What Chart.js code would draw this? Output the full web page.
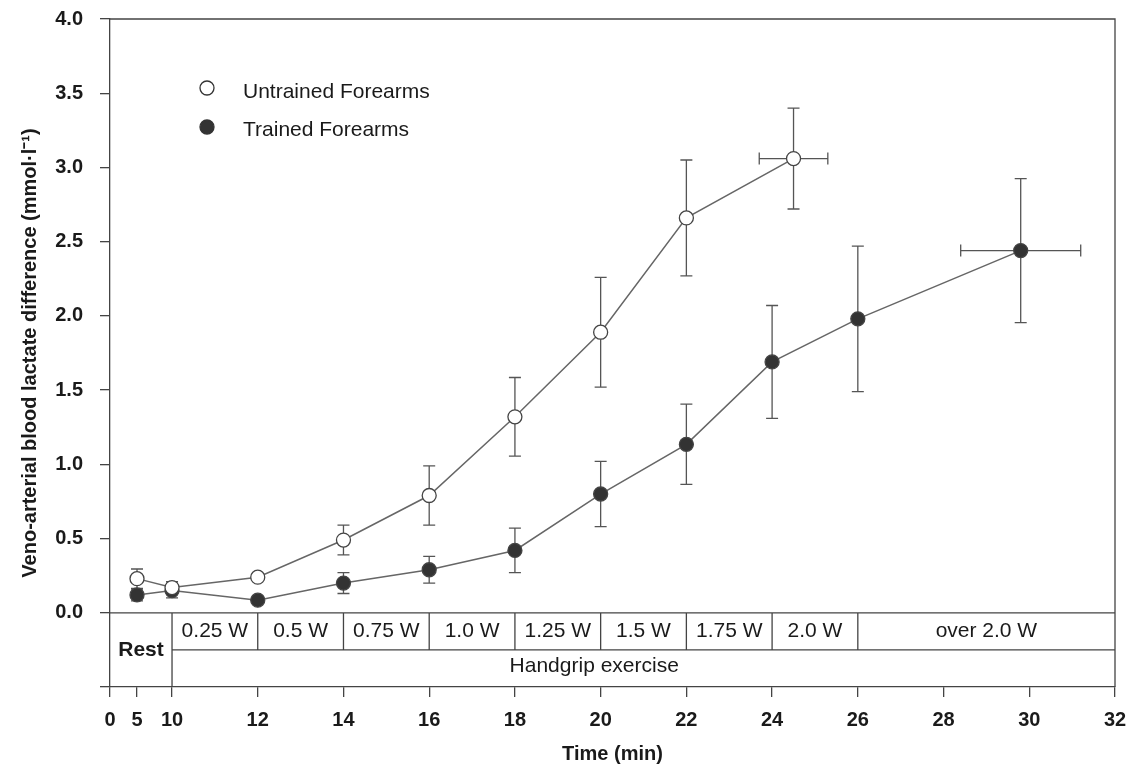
<!DOCTYPE html>
<html>
<head>
<meta charset="utf-8">
<script src="https://cdn.jsdelivr.net/npm/chart.js@4.4.1/dist/chart.umd.min.js"></script>
<style>
  html, body { margin: 0; padding: 0; background: #fff; }
</style>
</head>
<body>
<canvas id="LactateChart" width="1128" height="771"></canvas>
<script>
// Veno-arterial lactate, untrained vs trained forearms

const untrainedTime = [5, 10, 12, 14, 16, 18, 20, 22, 24.5];
const untrainedLactate = [0.23, 0.17, 0.24, 0.49, 0.79, 1.32, 1.89, 2.66, 3.06];
const untrainedErr = [0.065, 0.04, 0.02, 0.10, 0.20, 0.265, 0.37, 0.39, 0.34];
const untrainedTimeErr = [0, 0, 0, 0, 0, 0, 0, 0, 0.8];

const trainedTime = [5, 10, 12, 14, 16, 18, 20, 22, 24, 26, 29.8];
const trainedLactate = [0.12, 0.15, 0.085, 0.20, 0.29, 0.42, 0.80, 1.135, 1.69, 1.98, 2.44];
const trainedErr = [0.04, 0.05, 0.02, 0.07, 0.09, 0.15, 0.22, 0.27, 0.38, 0.49, 0.485];
const trainedTimeErr = [0, 0, 0, 0, 0, 0, 0, 0, 0, 0, 1.4];

const timeTicks = [0, 5, 10, 12, 14, 16, 18, 20, 22, 24, 26, 28, 30, 32];
const lactateTicks = [-0.5, 0, 0.5, 1.0, 1.5, 2.0, 2.5, 3.0, 3.5, 4.0];

// workload stages shown in the strip under the zero line
const stageBounds = [10, 12, 14, 16, 18, 20, 22, 24, 26, 32];
const stageLabels = ['0.25 W', '0.5 W', '0.75 W', '1.0 W', '1.25 W', '1.5 W', '1.75 W', '2.0 W', 'over 2.0 W'];

// the first 10 minutes are squeezed on the time axis
const realBreaks = [0, 5, 10];
const axisBreaks = [8.553, 9.183, 10];
function pos(t) {
  if (t >= realBreaks[2]) return t;
  if (t >= realBreaks[1]) {
    return axisBreaks[1] + (t - realBreaks[1]) * (axisBreaks[2] - axisBreaks[1]) / (realBreaks[2] - realBreaks[1]);
  }
  return axisBreaks[0] + (t - realBreaks[0]) * (axisBreaks[1] - axisBreaks[0]) / (realBreaks[1] - realBreaks[0]);
}

const FONT = "'Liberation Sans', Arial, sans-serif";
Chart.defaults.font.family = FONT;
Chart.defaults.color = '#1a1a1a';

const dataUntrained = untrainedTime.map((t, i) => ({ x: pos(t), y: untrainedLactate[i] }));
const dataTrained = trainedTime.map((t, i) => ({ x: pos(t), y: trainedLactate[i] }));

const errSets = [
  { time: untrainedTime, y: untrainedLactate, err: untrainedErr, terr: untrainedTimeErr },
  { time: trainedTime, y: trainedLactate, err: trainedErr, terr: trainedTimeErr }
];

const errorBars = {
  id: 'errorBars',
  beforeDatasetsDraw(chart) {
    const { ctx, scales: { x, y } } = chart;
    const cap = 6;
    ctx.save();
    ctx.strokeStyle = '#555';
    ctx.lineWidth = 1.3;
    errSets.forEach(s => {
      s.time.forEach((t, i) => {
        const px = x.getPixelForValue(pos(t));
        const py = y.getPixelForValue(s.y[i]);
        const top = y.getPixelForValue(s.y[i] + s.err[i]);
        const bot = y.getPixelForValue(s.y[i] - s.err[i]);
        ctx.beginPath();
        ctx.moveTo(px, top); ctx.lineTo(px, bot);
        ctx.moveTo(px - cap, top); ctx.lineTo(px + cap, top);
        ctx.moveTo(px - cap, bot); ctx.lineTo(px + cap, bot);
        if (s.terr[i] > 0) {
          const l = x.getPixelForValue(pos(t - s.terr[i]));
          const r = x.getPixelForValue(pos(t + s.terr[i]));
          ctx.moveTo(l, py); ctx.lineTo(r, py);
          ctx.moveTo(l, py - cap); ctx.lineTo(l, py + cap);
          ctx.moveTo(r, py - cap); ctx.lineTo(r, py + cap);
        }
        ctx.stroke();
      });
    });
    ctx.restore();
  }
};

// frame, zero line, workload strip, legend
const extras = {
  id: 'extras',
  afterDraw(chart) {
    const { ctx, chartArea: a, scales: { x, y } } = chart;
    ctx.save();
    ctx.strokeStyle = '#444';
    ctx.lineWidth = 1.3;
    ctx.beginPath();
    ctx.moveTo(a.left, a.top); ctx.lineTo(a.right, a.top); ctx.lineTo(a.right, a.bottom);
    const y0 = y.getPixelForValue(0);
    const yMid = y.getPixelForValue(-0.25);
    ctx.moveTo(a.left, y0); ctx.lineTo(a.right, y0);
    const x10 = x.getPixelForValue(pos(10));
    ctx.moveTo(x10, yMid); ctx.lineTo(a.right, yMid);
    ctx.moveTo(x10, y0); ctx.lineTo(x10, a.bottom);
    stageBounds.slice(1, -1).forEach(b => {
      const bx = x.getPixelForValue(pos(b));
      ctx.moveTo(bx, y0); ctx.lineTo(bx, yMid);
    });
    ctx.stroke();

    ctx.fillStyle = '#1a1a1a';
    ctx.textAlign = 'center';
    ctx.textBaseline = 'middle';
    ctx.font = '21px ' + FONT;
    const rowY = y.getPixelForValue(-0.125);
    stageLabels.forEach((lab, i) => {
      const cx = (x.getPixelForValue(pos(stageBounds[i])) + x.getPixelForValue(pos(stageBounds[i + 1]))) / 2;
      ctx.fillText(lab, cx, rowY);
    });
    ctx.fillText('Handgrip exercise', x.getPixelForValue(pos(19.85)), y.getPixelForValue(-0.36));
    ctx.font = 'bold 21px ' + FONT;
    ctx.fillText('Rest', (a.left + x10) / 2, y.getPixelForValue(-0.25));

    // legend
    ctx.textAlign = 'left';
    ctx.font = '21px ' + FONT;
    const items = [
      { label: 'Untrained Forearms', fill: '#fff', cy: 88, ty: 92 },
      { label: 'Trained Forearms', fill: '#333', cy: 127, ty: 130 }
    ];
    items.forEach(it => {
      ctx.beginPath();
      ctx.arc(207, it.cy, 7, 0, Math.PI * 2);
      ctx.fillStyle = it.fill;
      ctx.fill();
      ctx.strokeStyle = '#333';
      ctx.stroke();
      ctx.fillStyle = '#1a1a1a';
      ctx.fillText(it.label, 243, it.ty);
    });
    ctx.restore();
  }
};

const configLactate = {
  type: 'scatter',
  data: {
    datasets: [{
      label: 'Untrained Forearms',
      data: dataUntrained,
      showLine: true,
      borderColor: '#666',
      borderWidth: 1.5,
      pointRadius: 7,
      pointBackgroundColor: '#fff',
      pointBorderColor: '#444',
      pointBorderWidth: 1.3
    }, {
      label: 'Trained Forearms',
      data: dataTrained,
      showLine: true,
      borderColor: '#666',
      borderWidth: 1.5,
      pointRadius: 7,
      pointBackgroundColor: '#333',
      pointBorderColor: '#444',
      pointBorderWidth: 1.3
    }]
  },
  options: {
    responsive: false,
    animation: false,
    layout: { padding: { top: 19, right: 13, left: 0, bottom: 0 } },
    plugins: { legend: { display: false }, tooltip: { enabled: false } },
    scales: {
      x: {
        type: 'linear',
        min: pos(0),
        max: 32,
        afterBuildTicks: s => { s.ticks = timeTicks.map(t => ({ value: pos(t) })); },
        afterFit: s => { s.height = 84; s.paddingLeft = 0; s.paddingRight = 0; },
        ticks: {
          callback: (v, i) => timeTicks[i],
          autoSkip: false,
          maxRotation: 0,
          padding: 11,
          color: '#1a1a1a',
          font: { size: 20, weight: 'bold' }
        },
        grid: { drawOnChartArea: false, tickLength: 10, color: '#444', lineWidth: 1.3 },
        border: { color: '#444', width: 1.3 },
        title: {
          display: true,
          text: 'Time (min)',
          color: '#1a1a1a',
          font: { size: 20, weight: 'bold' },
          padding: { top: 0, bottom: 5 }
        }
      },
      y: {
        min: -0.5,
        max: 4,
        afterBuildTicks: s => { s.ticks = lactateTicks.map(v => ({ value: v })); },
        afterFit: s => { s.width = 110; s.paddingTop = 0; s.paddingBottom = 0; },
        ticks: {
          callback: v => (v < 0 ? '' : v.toFixed(1)),
          padding: 17,
          color: '#1a1a1a',
          font: { size: 20, weight: 'bold' }
        },
        grid: { drawOnChartArea: false, tickLength: 10, color: '#444', lineWidth: 1.3 },
        border: { color: '#444', width: 1.3 },
        title: {
          display: true,
          text: 'Veno-arterial blood lactate difference (mmol·l⁻¹)',
          color: '#1a1a1a',
          font: { size: 20, weight: 'bold' },
          padding: { top: 18, bottom: 0 }
        }
      }
    }
  },
  plugins: [errorBars, extras]
};

const Lactate_Chart = new Chart(
  document.getElementById('LactateChart'),
  configLactate
);
</script>
</body>
</html>
